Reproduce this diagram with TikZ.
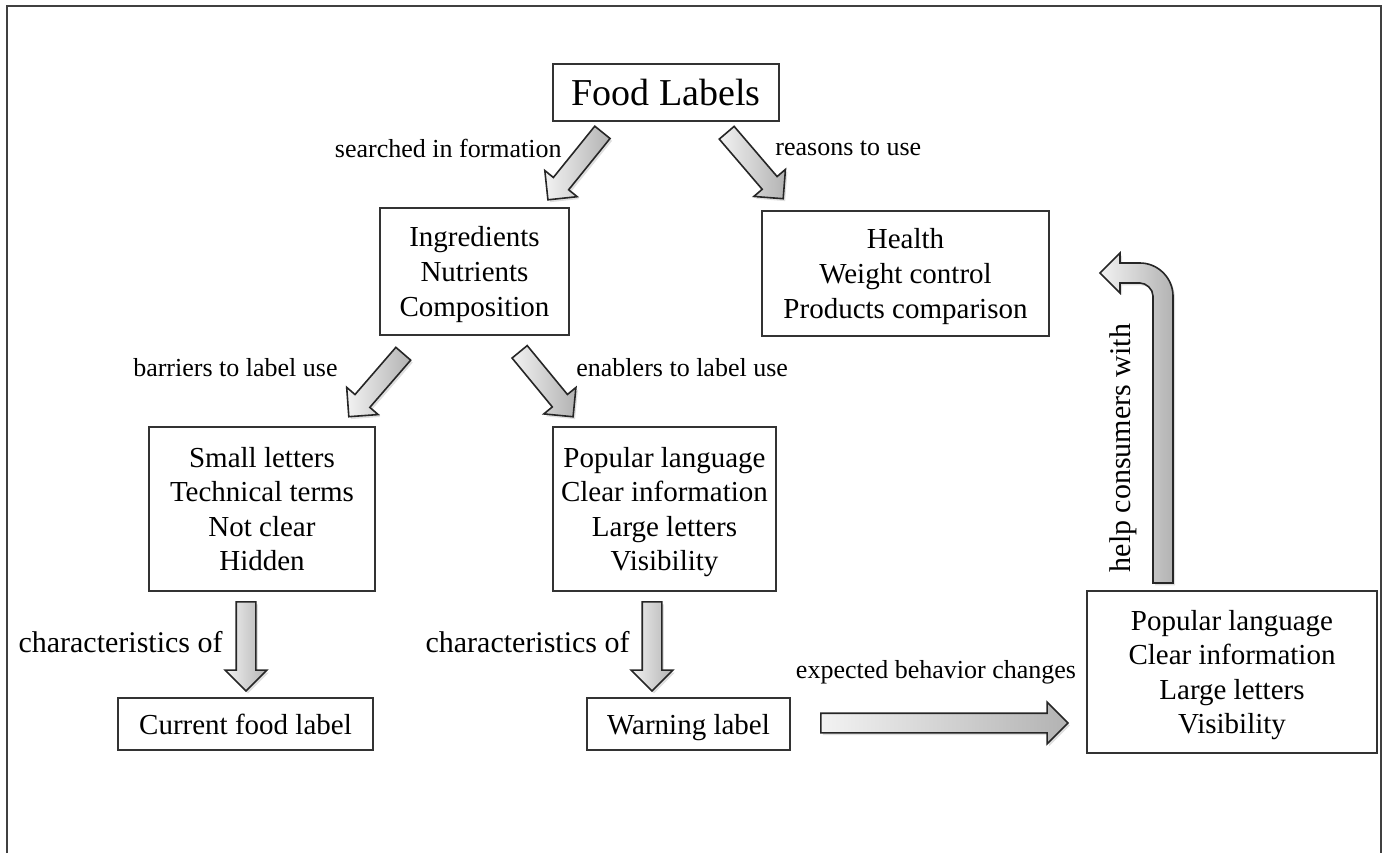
\documentclass[tikz,border=0pt]{standalone}
\usepackage{fontspec}
\setmainfont{Liberation Serif}
\usetikzlibrary{shapes.arrows,shadows,calc}
\tikzset{>=stealth}
\tikzset{
  box/.style={draw=black!80, line width=0.7pt, fill=white, align=center, inner sep=0pt,
    text depth=0pt, font=\fontsize{14.5}{17.3}\selectfont},
  lbl/.style={font=\fontsize{13}{15}\selectfont, inner sep=0pt},
  biglbl/.style={lbl, font=\fontsize{15}{17}\selectfont},
  fatfill/.style={draw=black!85, line width=0.8pt, left color=black!5, right color=black!30,
    drop shadow={opacity=0.25, shadow xshift=1pt, shadow yshift=-1.2pt}},
  fatarrow/.style={fatfill, single arrow, inner xsep=0pt, inner ysep=4.5pt,
    single arrow head extend=5.5pt},
}
\newcommand{\fatconnect}[2]{%
  \path let \p1=(#1), \p2=(#2), \n1={atan2(\y2-\y1,\x2-\x1)}, \n2={veclen(\x2-\x1,\y2-\y1)} in
    node[fatarrow, minimum height=\n2, rotate=\n1] at ($(#1)!0.5!(#2)$) {};}

\begin{document}
\begin{tikzpicture}[x=0.5pt, y=-0.5pt]
    \useasboundingbox (0,0) rectangle (1386,853);
    \draw[black!75, line width=1pt] (7,853) -- (7,6) -- (1381,6) -- (1381,853);

    % boxes
    \node[box, minimum width=113pt, minimum height=28.5pt, font=\fontsize{19}{22}\selectfont] (food) at (666,92.5) {Food Labels};
    \node[box, minimum width=94.5pt, minimum height=63.5pt] (info) at (474.5,271.5) {Ingredients\\Nutrients\\Composition};
    \node[box, minimum width=143.5pt, minimum height=62.5pt] (reasons) at (905.5,273.5) {Health\\Weight control\\Products comparison};
    \node[box, minimum width=113pt, minimum height=82pt] (barrier) at (262,509) {Small letters\\Technical terms\\Not clear\\Hidden};
    \node[box, minimum width=111.5pt, minimum height=82pt] (enabler) at (664.5,509) {Popular language\\Clear information\\Large letters\\Visibility};
    \node[box, minimum width=127.5pt, minimum height=26pt] (current) at (245.5,724) {Current food label};
    \node[box, minimum width=101.5pt, minimum height=26pt] (warning) at (688.5,724) {Warning label};
    \node[box, minimum width=145pt, minimum height=81pt] (expect) at (1232,672) {Popular language\\Clear information\\Large letters\\Visibility};

    % arrow ends
    \coordinate (a1s) at (605.5,128.5);  \coordinate (a1e) at (551,196);
    \coordinate (a2s) at (723.5,129);    \coordinate (a2e) at (780,195);
    \coordinate (a3s) at (406.5,350);    \coordinate (a3e) at (352,413);
    \coordinate (a4s) at (516.5,348);    \coordinate (a4e) at (570,413);
    \coordinate (a5s) at (246,597);      \coordinate (a5e) at (246,686);
    \coordinate (a6s) at (652,597);      \coordinate (a6e) at (652,686);
    \coordinate (a7s) at (816,723);      \coordinate (a7e) at (1063,723);
    \fatconnect{a1s}{a1e}
    \fatconnect{a2s}{a2e}
    \fatconnect{a3s}{a3e}
    \fatconnect{a4s}{a4e}
    \fatconnect{a5s}{a5e}
    \fatconnect{a6s}{a6e}
    \fatconnect{a7s}{a7e}

    % bent arrow back up to the reasons
    \coordinate (helpfoot) at (1163,583);
    \draw[fatfill] (helpfoot) ++(-10,0) -- ++(0,-287) .. controls ++(0,-7) and ++(6,0) .. ++(-13,-13)
        -- ++(-20,0) -- ++(0,10) -- ++(-20,-20) -- ++(20,-20) -- ++(0,10) -- ++(20,0)
        .. controls ++(18,0) and ++(0,-18) .. ++(33,33) -- ++(0,287) -- cycle;

    % labels
    \node[lbl, anchor=east] (lsearch) at (562,148) {searched in formation};
    \node[lbl, anchor=west] (lreason) at (775,148) {reasons to use};
    \node[lbl, anchor=east] (lbarrier) at (338,368) {barriers to label use};
    \node[lbl, anchor=west] (lenabler) at (576,368) {enablers to label use};
    \node[biglbl, anchor=east] (lchar1) at (223,642) {characteristics of};
    \node[biglbl, anchor=east] (lchar2) at (630,642) {characteristics of};
    \node[lbl] (lexpect) at (936,672) {expected behavior changes};
    \node[biglbl, rotate=90] (lhelp) at (1123,448) {help consumers with};
\end{tikzpicture}
\end{document}
